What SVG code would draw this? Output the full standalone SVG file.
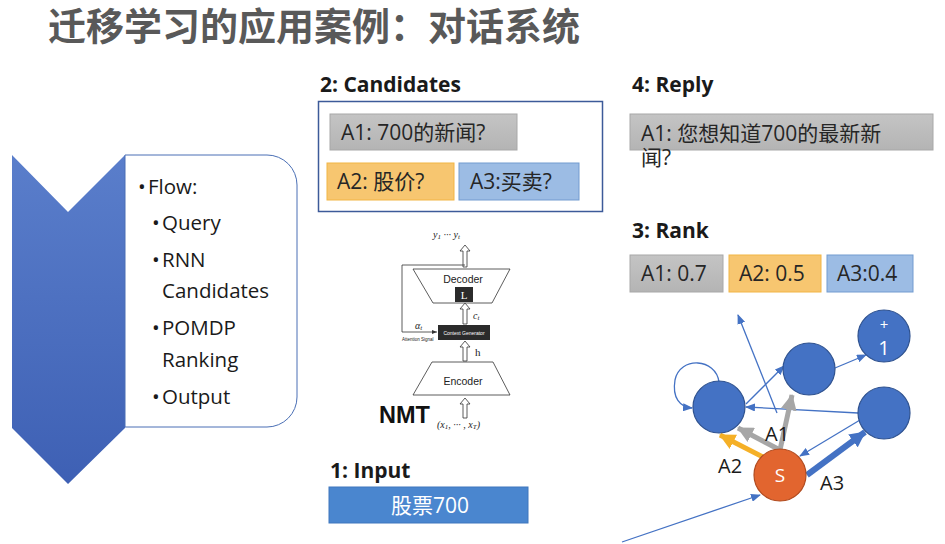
<svg xmlns="http://www.w3.org/2000/svg" width="945" height="544" viewBox="0 0 945 544">
<defs>
  <linearGradient id="chev" x1="0" y1="0" x2="0" y2="1">
    <stop offset="0" stop-color="#5a7ecb"/>
    <stop offset="1" stop-color="#3e60b4"/>
  </linearGradient>
  <linearGradient id="grayg" x1="0" y1="0" x2="0" y2="1">
    <stop offset="0" stop-color="#c4c4c4"/>
    <stop offset="1" stop-color="#b4b4b4"/>
  </linearGradient>
  <marker id="thin" markerUnits="userSpaceOnUse" markerWidth="10" markerHeight="8" refX="9" refY="4" orient="auto">
    <path d="M0,0 L10,4 L0,8 z" fill="#4472c4"/>
  </marker>
  <marker id="hgray" markerUnits="userSpaceOnUse" markerWidth="16" markerHeight="16" refX="15" refY="8" orient="auto">
    <path d="M0,0 L16,8 L0,16 z" fill="#a6a6a6"/>
  </marker>
  <marker id="horange" markerUnits="userSpaceOnUse" markerWidth="16" markerHeight="16" refX="15" refY="8" orient="auto">
    <path d="M0,0 L16,8 L0,16 z" fill="#f5b027"/>
  </marker>
  <marker id="hblue" markerUnits="userSpaceOnUse" markerWidth="16" markerHeight="16" refX="15" refY="8" orient="auto">
    <path d="M0,0 L16,8 L0,16 z" fill="#4472c4"/>
  </marker>
  <marker id="nmt" markerUnits="userSpaceOnUse" markerWidth="5" markerHeight="4" refX="5" refY="2" orient="auto">
    <path d="M0,0 L5,2 L0,4 z" fill="#333"/>
  </marker>
</defs>
<style>
  .title{font-family:"Noto Sans CJK SC","Noto Sans",sans-serif;font-weight:700;font-size:38px;fill:#595959}
  .hdr{font-family:"Open Sans","Noto Sans CJK SC",sans-serif;font-weight:700;font-size:21px;fill:#1a1a1a}
  .t{font-family:"Open Sans","Noto Sans CJK SC",sans-serif;font-size:21px;fill:#262626}
  .li{font-family:"Open Sans","Noto Sans CJK SC",sans-serif;font-size:20.5px;fill:#1a1a1a}
  .gbox{fill:url(#grayg);stroke:#a8a8a8;stroke-width:1}
  .obox{fill:#f7c670;stroke:#f2b544;stroke-width:1}
  .bbox{fill:#9cbce4;stroke:#729bd0;stroke-width:1}
  .node{fill:#4472c4;stroke:#2f528f;stroke-width:1.2}
  .thin{stroke:#4472c4;stroke-width:1.3;fill:none;marker-end:url(#thin)}
  .lbl{font-family:"Open Sans","Noto Sans",sans-serif;font-size:20px;fill:#1a1a1a}
  .nt{font-family:"Open Sans","Noto Sans",sans-serif;fill:#ffffff;text-anchor:middle}
  .hol{fill:#ffffff;stroke:#333;stroke-width:0.8}
  .ser{font-family:"Liberation Serif","DejaVu Serif",serif;font-style:italic;fill:#222}
  .nmts{font-family:"Liberation Sans Narrow","Liberation Sans",sans-serif;fill:#222}
</style>
<rect width="945" height="544" fill="#ffffff"/>

<text class="title" x="48" y="40">迁移学习的应用案例：对话系统</text>

<g id="flow">
  <path d="M12,155 L68,212 L125,155 L125,428 L68,484 L12,428 Z" fill="url(#chev)"/>
  <path d="M125,155 H267 A30,30 0 0 1 297,185 V397 A30,30 0 0 1 267,427 H125 Z" fill="#ffffff" stroke="#4a6fb5" stroke-width="1"/>
  <text class="li" x="138" y="194">•</text><text class="li" x="148" y="194">Flow:</text>
  <text class="li" x="152" y="230">•</text><text class="li" x="162" y="230">Query</text>
  <text class="li" x="152" y="267">•</text><text class="li" x="162" y="267">RNN</text>
  <text class="li" x="162" y="298">Candidates</text>
  <text class="li" x="152" y="335">•</text><text class="li" x="162" y="335">POMDP</text>
  <text class="li" x="162" y="367">Ranking</text>
  <text class="li" x="152" y="404">•</text><text class="li" x="162" y="404">Output</text>
</g>

<g id="candidates">
  <text class="hdr" x="320" y="92">2: Candidates</text>
  <rect x="318.5" y="101.5" width="284" height="110" fill="#ffffff" stroke="#3c5a99" stroke-width="1.5"/>
  <rect class="gbox" x="330" y="114" width="187" height="36"/>
  <text class="t" x="341" y="140">A1: 700的新闻?</text>
  <rect class="obox" x="327" y="163" width="127" height="37"/>
  <text class="t" x="337" y="189">A2: 股价?</text>
  <rect class="bbox" x="459" y="163" width="120" height="37"/>
  <text class="t" x="470" y="189">A3:买卖?</text>
</g>

<g id="reply">
  <text class="hdr" x="632" y="92">4: Reply</text>
  <rect class="gbox" x="630" y="114" width="303" height="36"/>
  <text class="t" x="641" y="141">A1: 您想知道700的最新新</text>
  <text class="t" x="641" y="165">闻?</text>
</g>

<g id="rank">
  <text class="hdr" x="632" y="238">3: Rank</text>
  <rect class="gbox" x="630" y="255" width="93" height="37"/>
  <text class="t" x="641" y="281">A1: 0.7</text>
  <rect class="obox" x="729" y="255" width="92" height="37"/>
  <text class="t" x="739" y="281">A2: 0.5</text>
  <rect class="bbox" x="827" y="255" width="86" height="37"/>
  <text class="t" x="837" y="281">A3:0.4</text>
</g>

<g id="input">
  <text class="hdr" x="330" y="478">1: Input</text>
  <rect x="329" y="487" width="199" height="36" fill="#4a86cf" stroke="#3f77bd" stroke-width="1"/>
  <text x="430" y="513" text-anchor="middle" font-family="Open Sans, Noto Sans CJK SC, sans-serif" font-size="21" fill="#ffffff">股票700</text>
</g>

<g id="nmt-diagram">
  <text class="ser" x="433" y="238" font-size="10">y<tspan font-size="7" dy="1">1</tspan><tspan dy="-1"> ··· y</tspan><tspan font-size="7" dy="1">t</tspan></text>
  <polygon class="hol" points="463,267 463,251 460,251 465,245 470,251 467,251 467,267"/>
  <polyline points="465,265 402,265 402,332 437,332" fill="none" stroke="#333" stroke-width="0.8" marker-end="url(#nmt)"/>
  <polygon points="413,269 510,269 492,303 433,303" fill="#ffffff" stroke="#333" stroke-width="0.8"/>
  <text class="nmts" x="463" y="283" font-size="10.5" text-anchor="middle">Decoder</text>
  <rect x="455" y="287" width="18" height="15" fill="#2b2b2b"/>
  <text x="464" y="299" font-family="Liberation Serif, serif" font-size="11" fill="#ffffff" text-anchor="middle">L</text>
  <polygon class="hol" points="463,324 463,309 460,309 465,303 470,309 467,309 467,324"/>
  <text class="ser" x="473" y="319" font-size="10">c<tspan font-size="7" dy="1">t</tspan></text>
  <text class="ser" x="415" y="329" font-size="10">α<tspan font-size="7" dy="1">t</tspan></text>
  <text x="402" y="341" font-family="Liberation Sans Narrow, Liberation Sans, sans-serif" font-size="4.5" fill="#222">Attention Signal</text>
  <rect x="438" y="325" width="52" height="15" fill="#2b2b2b"/>
  <text x="464" y="335" font-family="Liberation Sans Narrow, Liberation Sans, sans-serif" font-size="5" fill="#ffffff" text-anchor="middle">Context Generator</text>
  <polygon class="hol" points="463,361 463,347 460,347 465,341 470,347 467,347 467,361"/>
  <text x="475" y="356" font-family="Liberation Serif, serif" font-size="11" fill="#222">h</text>
  <polygon points="432,362 493,362 510,395 413,395" fill="#ffffff" stroke="#333" stroke-width="0.8"/>
  <text class="nmts" x="463" y="385" font-size="10.5" text-anchor="middle">Encoder</text>
  <polygon class="hol" points="463,418 463,404 460,404 465,398 470,404 467,404 467,418"/>
  <text x="379" y="423" font-family="Liberation Sans, Arial, sans-serif" font-weight="700" font-size="23.5" fill="#111">NMT</text>
  <text class="ser" x="437" y="428" font-size="10">(x<tspan font-size="7" dy="1">1</tspan><tspan dy="-1">, ··· , x</tspan><tspan font-size="7" dy="1">T</tspan><tspan dy="-1">)</tspan></text>
</g>

<g id="connectors">
  <path class="thin" d="M719,382 C716,358 680,356 675,380 C672,398 680,407 692,408"/>
  <line class="thin" x1="777" y1="413" x2="738" y2="315"/>
  <line class="thin" x1="746" y1="404" x2="784" y2="366"/>
  <line class="thin" x1="858" y1="413" x2="746" y2="407"/>
  <line class="thin" x1="835" y1="368" x2="866" y2="355"/>
  <line class="thin" x1="860" y1="420" x2="800" y2="456"/>
  <line class="thin" x1="622" y1="542" x2="760" y2="495"/>
  <line x1="780" y1="450" x2="792" y2="395" stroke="#a6a6a6" stroke-width="5" marker-end="url(#hgray)"/>
  <line x1="780" y1="450" x2="738" y2="428" stroke="#a6a6a6" stroke-width="5" marker-end="url(#hgray)"/>
  <line x1="763" y1="457" x2="720" y2="435" stroke="#f5b027" stroke-width="5" marker-end="url(#horange)"/>
  <line x1="807" y1="475" x2="865" y2="432" stroke="#4472c4" stroke-width="6" marker-end="url(#hblue)"/>
  <text class="lbl" x="765" y="441">A1</text>
  <text class="lbl" x="718" y="473">A2</text>
  <text class="lbl" x="820" y="490">A3</text>
</g>

<g id="node-left"><circle class="node" cx="719" cy="407" r="26"/></g>
<g id="node-mid"><circle class="node" cx="809" cy="369" r="26"/></g>
<g id="node-plus1"><circle class="node" cx="884" cy="336" r="26"/>
  <text class="nt" x="884" y="330" font-size="15">+</text>
  <text class="nt" x="884" y="355" font-size="20">1</text></g>
<g id="node-right"><circle class="node" cx="884" cy="413" r="26"/></g>
<g id="node-s"><circle cx="780" cy="475" r="26" fill="#e2652f" stroke="#b04a1e" stroke-width="1.2"/>
  <text class="nt" x="780" y="482" font-size="19">S</text></g>
</svg>
